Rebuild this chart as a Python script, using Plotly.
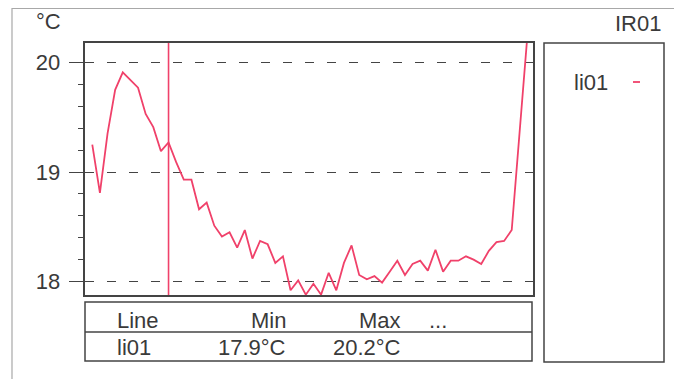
import plotly.graph_objects as go

# ---- data ----
series_names = ["li01"]
sample_index = list(range(58))
temps_li01 = [
    19.25, 18.81, 19.35, 19.75, 19.91, 19.84, 19.77, 19.53, 19.41, 19.19,
    19.27, 19.09, 18.93, 18.93, 18.66, 18.72, 18.51, 18.41, 18.45, 18.31,
    18.47, 18.21, 18.37, 18.34, 18.17, 18.23, 17.92, 18.01, 17.88, 17.98,
    17.88, 18.08, 17.92, 18.17, 18.33, 18.06, 18.02, 18.05, 17.99, 18.09,
    18.19, 18.06, 18.16, 18.19, 18.10, 18.29, 18.09, 18.19, 18.19, 18.23,
    18.20, 18.16, 18.28, 18.36, 18.37, 18.47, 19.31, 20.20,
]
y_tick_values = [18, 19, 20]
y_tick_labels = ["18", "19", "20"]
cursor_index = 10
unit_label = "°C"
channel_label = "IR01"
table_headers = ["Line", "Min", "Max", "..."]

# page body adds an 8px margin; the figure is sized/offset to compensate
OFF = 8
W, H = 682 - OFF, 379 - OFF
FONT = "Liberation Sans, Arial, sans-serif"
TXT = "#3a3a3a"
DARK = "#444444"
RED = "#f0416a"
FS = 22

def px(x):
    return (x - OFF) / W

def py(y):
    return 1 - (y - OFF) / H

fig = go.Figure()
fig.add_trace(go.Scatter(
    x=sample_index, y=temps_li01, mode="lines", name=series_names[0],
    line=dict(color=RED, width=1.8), showlegend=False,
))

plot_l, plot_r, plot_t, plot_b = 84.5, 533, 43, 295

fig.update_layout(
    width=W, height=H,
    margin=dict(l=0, r=0, t=0, b=0),
    paper_bgcolor="white", plot_bgcolor="white",
    font=dict(family=FONT, size=FS, color=TXT),
    xaxis=dict(
        domain=[px(plot_l), px(plot_r)], range=[-1.02, 57.79],
        showticklabels=False, ticks="", showgrid=False, zeroline=False,
        showline=True, mirror=True, linecolor=DARK, linewidth=1.5,
    ),
    yaxis=dict(
        domain=[py(plot_b), py(plot_t)], range=[17.877, 20.178],
        tickvals=y_tick_values, ticktext=y_tick_labels,
        ticks="outside", ticklen=14, tickwidth=1.3, tickcolor=DARK,
        ticklabelstandoff=4,
        tickfont=dict(size=FS, color=TXT),
        showgrid=True, gridcolor=DARK, gridwidth=1.4, griddash="9px,13px",
        zeroline=False,
        showline=True, mirror=True, linecolor=DARK, linewidth=1.5,
        minor=dict(tick0=18, dtick=0.2, ticks="outside", ticklen=5,
                   tickwidth=1.2, tickcolor=DARK, showgrid=False),
    ),
)

shapes = []
# outer frame (bottom edge falls outside view)
shapes.append(dict(type="rect", xref="paper", yref="paper",
                   x0=px(12), x1=px(678), y0=py(400), y1=py(8.5),
                   line=dict(color="#a8a8a8", width=1.2), layer="below"))
# cursor line
shapes.append(dict(type="line", xref="x", yref="y domain",
                   x0=cursor_index, x1=cursor_index, y0=0, y1=1,
                   line=dict(color=RED, width=1.6)))
# table box
shapes.append(dict(type="rect", xref="paper", yref="paper",
                   x0=px(85), x1=px(532), y0=py(361), y1=py(302),
                   line=dict(color=DARK, width=1.5)))
shapes.append(dict(type="line", xref="paper", yref="paper",
                   x0=px(85), x1=px(532), y0=py(332), y1=py(332),
                   line=dict(color=DARK, width=1.5)))
# legend box
shapes.append(dict(type="rect", xref="paper", yref="paper",
                   x0=px(544), x1=px(664), y0=py(362), y1=py(43),
                   line=dict(color=DARK, width=1.5)))
# legend swatch
shapes.append(dict(type="line", xref="paper", yref="paper",
                   x0=px(633), x1=px(640), y0=py(82), y1=py(82),
                   line=dict(color=RED, width=1.8)))
fig.update_layout(shapes=shapes)

min_txt = f"{min(temps_li01):.1f}{unit_label}"
max_txt = f"{max(temps_li01):.1f}{unit_label}"

def ann(text, x, y, xanchor):
    return dict(text=text, xref="paper", yref="paper", x=px(x), y=py(y),
                xanchor=xanchor, yanchor="middle", showarrow=False,
                font=dict(family=FONT, size=FS, color=TXT))

annotations = [
    ann(unit_label, 63, 22, "right"),
    ann(channel_label, 663, 23, "right"),
    ann(series_names[0], 572, 82, "left"),
    ann(table_headers[0], 115, 320, "left"),
    ann(table_headers[1], 288, 320, "right"),
    ann(table_headers[2], 403, 320, "right"),
    ann(table_headers[3], 427, 320, "left"),
    ann(series_names[0], 115, 347, "left"),
    ann(min_txt, 288, 347, "right"),
    ann(max_txt, 403, 347, "right"),
]
fig.update_layout(annotations=annotations)

fig.write_html("out.html")
